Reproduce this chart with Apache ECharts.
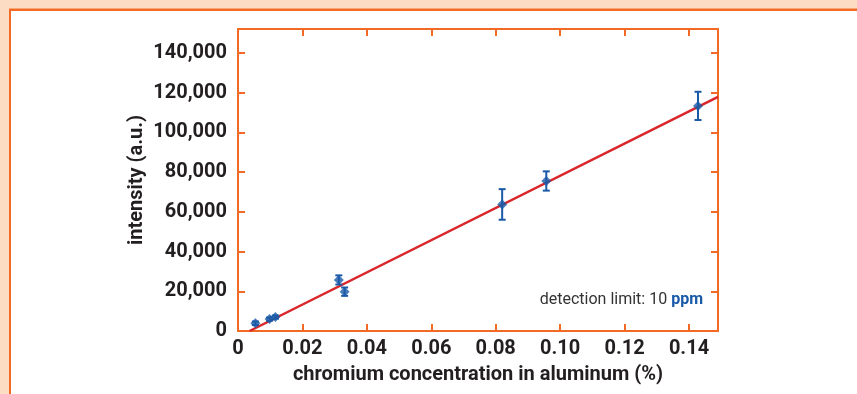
<!DOCTYPE html>
<html>
<head>
<meta charset="utf-8">
<script src="https://cdn.jsdelivr.net/npm/echarts@6/dist/echarts.min.js"></script>
<style>
  html, body { margin: 0; padding: 0; background: #fddcc4; }
  #panel { position: absolute; left: 9px; top: 9px; width: 900px; height: 420px; background: #ffffff; border-left: 2px solid #f26a24; border-top: 2px solid #f26a24; box-shadow: 0 -1px 0 #f9a679; }
  #chart { position: absolute; left: 0; top: 0; width: 857px; height: 394px; }
</style>
</head>
<body>
<div id="panel"></div>
<div id="chart"></div>
<script>
// Data
const concentration = [0.0054, 0.0098, 0.0116, 0.0313, 0.0331, 0.0820, 0.0957, 0.1428];
const intensity     = [3900, 6000, 7000, 25700, 19800, 63700, 75500, 113300];
const intensityErr  = [900, 800, 800, 2300, 2100, 7700, 4850, 7100];
const fitX = [0.0036, 0.149];
const fitY = [0, 117850];
const xTicks = ['0', '0.02', '0.04', '0.06', '0.08', '0.10', '0.12', '0.14'];
const yTicks = ['0', '20,000', '40,000', '60,000', '80,000', '100,000', '120,000', '140,000'];

const ORANGE = '#f26a24';
const BLUE = '#1a5aa8';
const RED = '#d8262b';
const TEXT = '#231f20';
const FONT = 'Roboto, "DejaVu Sans", sans-serif';

const chart = echarts.init(document.getElementById('chart'), null, { renderer: 'canvas' });

const pts = concentration.map((x, i) => [x, intensity[i], intensityErr[i]]);
const fitLine = fitX.map((x, i) => [x, fitY[i]]);

function xLabel(v) {
  const idx = Math.round(v / 0.02);
  if (Math.abs(v - idx * 0.02) > 1e-9) return '';
  return xTicks[idx] !== undefined ? xTicks[idx] : '';
}
function yLabel(v) {
  const idx = Math.round(v / 20000);
  if (Math.abs(v - idx * 20000) > 1e-6) return '';
  return yTicks[idx] !== undefined ? yTicks[idx] : '';
}

const axisCommon = {
  type: 'value',
  axisLine: { show: true, onZero: false, lineStyle: { color: ORANGE, width: 2 } },
  axisTick: { show: true, inside: true, length: 7, lineStyle: { color: ORANGE, width: 2 } },
  splitLine: { show: false }
};

chart.setOption({
  animation: false,
  backgroundColor: 'transparent',
  grid: { left: 238, top: 29, right: 139, bottom: 63, containLabel: false },
  xAxis: [
    Object.assign({}, axisCommon, {
      position: 'bottom', min: 0, max: 0.149, interval: 0.02,
      axisLabel: { formatter: xLabel, showMaxLabel: false, margin: 8, fontFamily: FONT, fontWeight: 'bold', fontSize: 20, color: TEXT },
      name: 'chromium concentration in aluminum (%)', nameLocation: 'middle', nameGap: 34, nameMoveOverlap: false,
      nameTextStyle: { fontFamily: FONT, fontWeight: 'bold', fontSize: 20, color: TEXT }
    }),
    Object.assign({}, axisCommon, {
      position: 'top', min: 0, max: 0.149, interval: 0.02,
      axisLabel: { show: false }
    })
  ],
  yAxis: [
    Object.assign({}, axisCommon, {
      position: 'left', min: 0, max: 152000, interval: 20000,
      axisLabel: { formatter: yLabel, showMaxLabel: false, margin: 11, fontFamily: FONT, fontWeight: 'bold', fontSize: 20, color: TEXT },
      name: 'intensity (a.u.)', nameLocation: 'middle', nameGap: 91, nameRotate: 90, nameMoveOverlap: false,
      nameTextStyle: { fontFamily: FONT, fontWeight: 'bold', fontSize: 20, color: TEXT }
    }),
    Object.assign({}, axisCommon, {
      position: 'right', min: 0, max: 152000, interval: 20000,
      axisLabel: { show: false }
    })
  ],
  series: [
    {
      type: 'line', data: fitLine, symbol: 'none', clip: true,
      lineStyle: { color: RED, width: 2.5 }, z: 2
    },
    {
      type: 'custom', data: pts, clip: false, z: 3,
      renderItem: function (params, api) {
        const x = api.value(0), y = api.value(1), e = api.value(2);
        const top = api.coord([x, y + e]);
        const bot = api.coord([x, y - e]);
        const cap = 3.5;
        const style = { stroke: BLUE, lineWidth: 2 };
        return {
          type: 'group',
          children: [
            { type: 'line', shape: { x1: top[0], y1: top[1], x2: bot[0], y2: bot[1] }, style: style },
            { type: 'line', shape: { x1: top[0] - cap, y1: top[1], x2: top[0] + cap, y2: top[1] }, style: style },
            { type: 'line', shape: { x1: bot[0] - cap, y1: bot[1], x2: bot[0] + cap, y2: bot[1] }, style: style }
          ]
        };
      }
    },
    {
      type: 'scatter', data: pts.map(p => [p[0], p[1]]), symbol: 'diamond', symbolSize: 10,
      itemStyle: { color: BLUE }, z: 4
    }
  ],
  graphic: [
    {
      type: 'text', z: 10,
      style: {
        x: 703, y: 300, align: 'right', verticalAlign: 'middle',
        text: 'detection limit: 10 {p|ppm}',
        font: '16px ' + FONT, fill: '#333333',
        rich: { p: { fontFamily: FONT, fontSize: 16, fontWeight: 'bold', fill: BLUE, color: BLUE } }
      }
    }
  ]
});
</script>
</body>
</html>
